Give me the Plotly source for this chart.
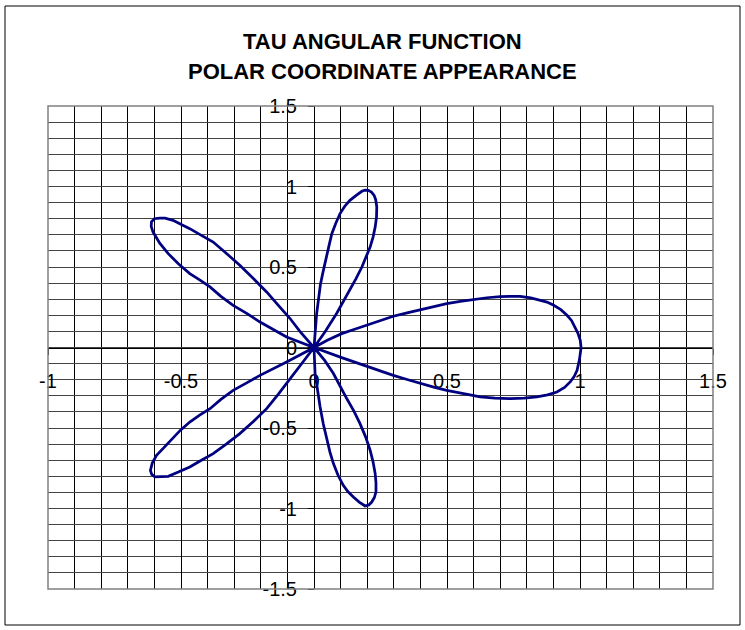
import plotly.graph_objects as go

# Petal outlines of the angular function, traced counter-clockwise (x, y)
right_top_x = [1.004, 1.001, 0.992, 0.982, 0.968, 0.951, 0.928, 0.901, 0.876, 0.851, 0.815, 0.775, 0.740, 0.700, 0.650, 0.600, 0.550, 0.499, 0.450, 0.399, 0.350, 0.298, 0.250, 0.198, 0.150, 0.104, 0.050, 0.0]
right_top_y = [0.000, 0.045, 0.090, 0.127, 0.168, 0.200, 0.235, 0.262, 0.282, 0.293, 0.308, 0.318, 0.318, 0.316, 0.309, 0.299, 0.287, 0.273, 0.255, 0.235, 0.215, 0.194, 0.166, 0.138, 0.112, 0.086, 0.045, 0.0]

upper_x = [0.041, 0.085, 0.110, 0.135, 0.158, 0.180, 0.197, 0.211, 0.222, 0.230, 0.235, 0.236, 0.232, 0.226, 0.216, 0.204, 0.192, 0.180, 0.160, 0.135, 0.115, 0.098, 0.082, 0.067, 0.056, 0.044, 0.034, 0.024, 0.010, 0.0]
upper_y = [0.096, 0.211, 0.283, 0.355, 0.428, 0.500, 0.562, 0.624, 0.686, 0.748, 0.810, 0.873, 0.918, 0.945, 0.965, 0.976, 0.978, 0.970, 0.946, 0.914, 0.876, 0.832, 0.772, 0.707, 0.630, 0.550, 0.470, 0.390, 0.211, 0.0]

upper_left_x = [-0.103, -0.153, -0.203, -0.253, -0.304, -0.350, -0.391, -0.430, -0.467, -0.510, -0.548, -0.580, -0.605, -0.612, -0.611, -0.600, -0.580, -0.560, -0.530, -0.497, -0.467, -0.425, -0.379, -0.330, -0.279, -0.228, -0.178, -0.134, -0.090, -0.053, 0.0]
upper_left_y = [0.065, 0.112, 0.158, 0.212, 0.262, 0.318, 0.376, 0.420, 0.459, 0.520, 0.583, 0.648, 0.717, 0.752, 0.780, 0.800, 0.804, 0.803, 0.790, 0.762, 0.738, 0.698, 0.655, 0.585, 0.511, 0.428, 0.345, 0.262, 0.180, 0.100, 0.0]

lower_left_x = [-0.103, -0.153, -0.203, -0.253, -0.304, -0.350, -0.391, -0.430, -0.467, -0.503, -0.536, -0.566, -0.592, -0.608, -0.615, -0.610, -0.598, -0.575, -0.548, -0.510, -0.467, -0.425, -0.379, -0.330, -0.279, -0.228, -0.178, -0.134, -0.090, -0.048, 0.0]
lower_left_y = [-0.090, -0.131, -0.173, -0.220, -0.266, -0.322, -0.380, -0.420, -0.463, -0.515, -0.576, -0.625, -0.670, -0.718, -0.763, -0.788, -0.804, -0.804, -0.800, -0.774, -0.742, -0.702, -0.659, -0.600, -0.535, -0.460, -0.380, -0.290, -0.193, -0.100, 0.0]

lower_x = [0.004, 0.013, 0.023, 0.035, 0.048, 0.060, 0.073, 0.090, 0.110, 0.128, 0.148, 0.170, 0.192, 0.206, 0.217, 0.227, 0.233, 0.233, 0.230, 0.222, 0.211, 0.194, 0.173, 0.150, 0.123, 0.098, 0.073, 0.040, 0.0]
lower_y = [-0.162, -0.265, -0.370, -0.475, -0.576, -0.650, -0.721, -0.792, -0.856, -0.896, -0.929, -0.960, -0.984, -0.978, -0.960, -0.932, -0.897, -0.840, -0.783, -0.710, -0.638, -0.555, -0.473, -0.395, -0.317, -0.240, -0.162, -0.080, 0.0]

right_bottom_x = [0.104, 0.150, 0.198, 0.250, 0.298, 0.350, 0.399, 0.450, 0.499, 0.560, 0.625, 0.680, 0.738, 0.790, 0.838, 0.878, 0.913, 0.942, 0.963, 0.978, 0.989, 0.998, 1.004]
right_bottom_y = [-0.063, -0.090, -0.117, -0.146, -0.173, -0.199, -0.224, -0.246, -0.266, -0.288, -0.307, -0.315, -0.318, -0.314, -0.307, -0.294, -0.276, -0.248, -0.214, -0.180, -0.142, -0.075, 0.000]

curve_x = right_top_x + upper_x + upper_left_x + lower_left_x + lower_x + right_bottom_x
curve_y = right_top_y + upper_y + upper_left_y + lower_left_y + lower_y + right_bottom_y

x_ticks = [-1, -0.5, 0, 0.5, 1, 1.5]
x_tick_text = ["-1", "-0.5", "0", "0.5", "1", "1.5"]
y_ticks = [-1.5, -1, -0.5, 0, 0.5, 1, 1.5]
y_tick_text = ["-1.5", "-1", "-0.5", "0", "0.5", "1", "1.5"]

title_lines = ["TAU ANGULAR FUNCTION", "POLAR COORDINATE APPEARANCE"]

FONT = "Arial, 'Liberation Sans', sans-serif"
W, H = 745, 630
L, R, T, B = 48, 32, 106, 41
PW, PH = W - L - R, H - T - B


def px_to_paper_x(px):
    return (px - L) / PW


def px_to_paper_y(py):
    return 1 - (py - T) / PH


fig = go.Figure()
fig.add_trace(go.Scatter(
    x=curve_x, y=curve_y, mode="lines",
    line=dict(color="#000080", width=2.75),
    hoverinfo="skip", showlegend=False,
))

axis_common = dict(
    tickmode="array", showline=True, linecolor="black", linewidth=1,
    ticks="outside", ticklen=6, tickcolor="black", tickwidth=1,
    tickfont=dict(family=FONT, size=20, color="black"),
    zeroline=False, showgrid=True, gridwidth=1, layer="below traces",
    anchor="free", fixedrange=True,
)

fig.update_layout(
    width=W, height=H,
    margin=dict(l=L, r=R, t=T, b=B),
    paper_bgcolor="white", plot_bgcolor="white",
    showlegend=False,
    xaxis=dict(
        range=[-1, 1.5], tickvals=x_ticks, ticktext=x_tick_text,
        gridcolor="black", position=0.5, ticklabelstandoff=9,
        minor=dict(tickmode="linear", tick0=0, dtick=0.1, showgrid=True,
                   gridcolor="black", gridwidth=1, ticks=""),
        **axis_common,
    ),
    yaxis=dict(
        range=[-1.5, 1.5], tickvals=y_ticks, ticktext=y_tick_text,
        gridcolor="#444444", position=0.4, ticklabelstandoff=7,
        minor=dict(tickmode="linear", tick0=0, dtick=0.1, showgrid=True,
                   gridcolor="#444444", gridwidth=1, ticks=""),
        **axis_common,
    ),
)

# Chart title, two lines
for text, py in zip(title_lines, [41, 72]):
    fig.add_annotation(
        text=f"<b>{text}</b>", xref="paper", yref="paper",
        x=px_to_paper_x(382), y=px_to_paper_y(py),
        xanchor="center", yanchor="middle", showarrow=False,
        font=dict(family=FONT, size=22, color="black"),
    )

# Plot-area border and outer chart frame
fig.add_shape(type="rect", xref="paper", yref="paper", x0=0, y0=0, x1=1, y1=1,
              line=dict(color="#808080", width=1.5), layer="above")
fig.add_shape(type="rect", xref="paper", yref="paper",
              x0=px_to_paper_x(5), x1=px_to_paper_x(740),
              y0=px_to_paper_y(625), y1=px_to_paper_y(6),
              line=dict(color="black", width=1), layer="above")

fig.write_html("out.html")
